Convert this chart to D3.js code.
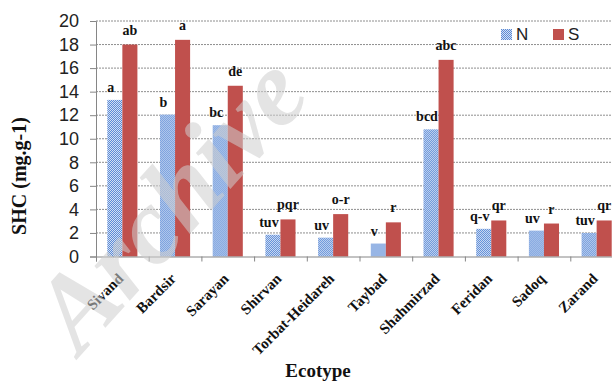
<!DOCTYPE html>
<html>
<head>
<meta charset="utf-8">
<script src="https://cdn.jsdelivr.net/npm/d3@7"></script>
<style>
  html, body { margin: 0; padding: 0; background: #fff; }
  svg { display: block; }
</style>
</head>
<body>
<div id="chart"></div>
<script>
// data
const ecotypes = ['Sivand', 'Bardsir', 'Sarayan', 'Shirvan', 'Torbat-Heidareh', 'Taybad', 'Shahmirzad', 'Feridan', 'Sadoq', 'Zarand'];
const seriesKeys = ['N', 'S'];
const nValues = [13.3, 12.05, 11.15, 1.85, 1.6, 1.1, 10.8, 2.35, 2.2, 2.0];
const sValues = [18.0, 18.4, 14.5, 3.15, 3.6, 2.9, 16.7, 3.06, 2.8, 3.06];
const nLetters = ['a', 'b', 'bc', 'tuv', 'uv', 'v', 'bcd', 'q-v', 'uv', 'tuv'];
const sLetters = ['ab', 'a', 'de', 'pqr', 'o-r', 'r', 'abc', 'qr', 'r', 'qr'];
const yTicks = [0, 2, 4, 6, 8, 10, 12, 14, 16, 18, 20];

const W = 612, H = 381;
const margin = { top: 21, right: -11, bottom: 124.5, left: 96 };
const width = W - margin.left - margin.right;
const height = H - margin.top - margin.bottom;

const serif = '"Liberation Serif", "Times New Roman", serif';
const sans = '"Liberation Sans", Arial, sans-serif';
const colN = '#5b8ad6', colS = '#c0504d';

const svg = d3.select('#chart').append('svg')
  .attr('width', W)
  .attr('height', H);

svg.append('rect').attr('width', W).attr('height', H).attr('fill', '#fff');

// dotted fill for N
const pat = svg.append('defs').append('pattern')
  .attr('id', 'dots')
  .attr('patternUnits', 'userSpaceOnUse')
  .attr('width', 2).attr('height', 2);
pat.append('rect').attr('width', 2).attr('height', 2).attr('fill', '#d3e0f4');
pat.append('rect').attr('width', 1).attr('height', 1).attr('fill', colN);
pat.append('rect').attr('x', 1).attr('y', 1).attr('width', 1).attr('height', 1).attr('fill', colN);

const g = svg.append('g')
  .attr('transform', 'translate(' + margin.left + ',' + margin.top + ')');

const x0 = d3.scaleBand()
  .domain(ecotypes)
  .range([0, width])
  .paddingInner(0)
  .paddingOuter(0);

const x1 = d3.scaleBand()
  .domain(seriesKeys)
  .range([0, x0.bandwidth()])
  .paddingInner(0)
  .paddingOuter(0.75);

const y = d3.scaleLinear()
  .domain([0, 20])
  .range([height, 0]);

// gridlines
g.append('g')
  .selectAll('line')
  .data(yTicks.filter(d => d > 0))
  .enter().append('line')
  .attr('x1', 0)
  .attr('x2', width)
  .attr('y1', d => y(d))
  .attr('y2', d => y(d))
  .attr('stroke', '#8e8e8e')
  .attr('stroke-width', 1)
  .attr('stroke-dasharray', '2,1');

// y axis
const yAxis = g.append('g')
  .call(d3.axisLeft(y).tickValues(yTicks).tickSize(6).tickPadding(11).tickFormat(d3.format('d')));
yAxis.select('.domain').attr('stroke', '#868686');
yAxis.selectAll('.tick line').attr('stroke', '#868686');
yAxis.selectAll('.tick text')
  .attr('font-family', sans)
  .attr('font-size', 18)
  .attr('fill', '#222');

// bars
const rows = ecotypes.map((e, i) => ({ ecotype: e, N: nValues[i], S: sValues[i], nL: nLetters[i], sL: sLetters[i] }));

const groups = g.selectAll('.grp')
  .data(rows)
  .enter().append('g')
  .attr('class', 'grp')
  .attr('transform', d => 'translate(' + x0(d.ecotype) + ',0)');

groups.selectAll('rect')
  .data(d => seriesKeys.map(k => ({ key: k, value: d[k] })))
  .enter().append('rect')
  .attr('x', d => x1(d.key))
  .attr('width', x1.bandwidth())
  .attr('y', d => y(d.value))
  .attr('height', d => height - y(d.value))
  .attr('fill', d => d.key === 'N' ? 'url(#dots)' : colS);

// letters above bars
groups.append('text')
  .attr('x', x1('N') + x1.bandwidth() / 2 - 4)
  .attr('y', d => y(d.N) - 8)
  .attr('text-anchor', 'middle')
  .attr('font-family', serif)
  .attr('font-weight', 'bold')
  .attr('font-size', 14)
  .attr('fill', '#111')
  .text(d => d.nL);

groups.append('text')
  .attr('x', x1('S') + x1.bandwidth() / 2)
  .attr('y', d => y(d.S) - 10)
  .attr('text-anchor', 'middle')
  .attr('font-family', serif)
  .attr('font-weight', 'bold')
  .attr('font-size', 14)
  .attr('fill', '#111')
  .text(d => d.sL);

// x axis: ticks between categories
const xi = d3.scaleLinear().domain([0, ecotypes.length]).range([0, width]);
const xAxis = g.append('g')
  .attr('transform', 'translate(0,' + height + ')')
  .call(d3.axisBottom(xi).tickValues(d3.range(0, ecotypes.length + 1)).tickSize(5).tickFormat(''));
xAxis.select('.domain').attr('stroke', '#868686');
xAxis.selectAll('.tick line').attr('stroke', '#868686');

// category labels
g.append('g')
  .selectAll('text')
  .data(ecotypes)
  .enter().append('text')
  .attr('transform', d => 'translate(' + (x0(d) + x0.bandwidth() / 2 + 2) + ',' + (height + 23) + ') rotate(-45)')
  .attr('text-anchor', 'end')
  .attr('font-family', serif)
  .attr('font-weight', 'bold')
  .attr('font-size', 15)
  .attr('fill', '#111')
  .text(d => d);

// axis titles
svg.append('text')
  .attr('x', 318)
  .attr('y', 377)
  .attr('text-anchor', 'middle')
  .attr('font-family', serif)
  .attr('font-weight', 'bold')
  .attr('font-size', 19)
  .attr('fill', '#111')
  .text('Ecotype');

svg.append('text')
  .attr('transform', 'translate(26,176) rotate(-90)')
  .attr('text-anchor', 'middle')
  .attr('font-family', serif)
  .attr('font-weight', 'bold')
  .attr('font-size', 20)
  .attr('fill', '#111')
  .text('SHC (mg.g-1)');

// legend
const legend = svg.append('g').attr('transform', 'translate(501,29)');
seriesKeys.forEach((k, i) => {
  const lg = legend.append('g').attr('transform', 'translate(' + (i * 52) + ',0)');
  lg.append('rect')
    .attr('width', 11).attr('height', 11)
    .attr('fill', k === 'N' ? 'url(#dots)' : colS);
  lg.append('text')
    .attr('x', 15)
    .attr('y', 11)
    .attr('font-family', sans)
    .attr('font-size', 17)
    .attr('fill', '#222')
    .text(k);
});

// watermark (kept inside the frame)
svg.append('text')
  .attr('transform', 'translate(80,356) rotate(-48)')
  .attr('font-family', serif)
  .attr('font-style', 'italic')
  .attr('font-weight', 'bold')
  .attr('font-size', 108)
  .attr('fill', '#cfcfcf')
  .attr('opacity', 0.55)
  .text('Archive');
</script>
</body>
</html>
